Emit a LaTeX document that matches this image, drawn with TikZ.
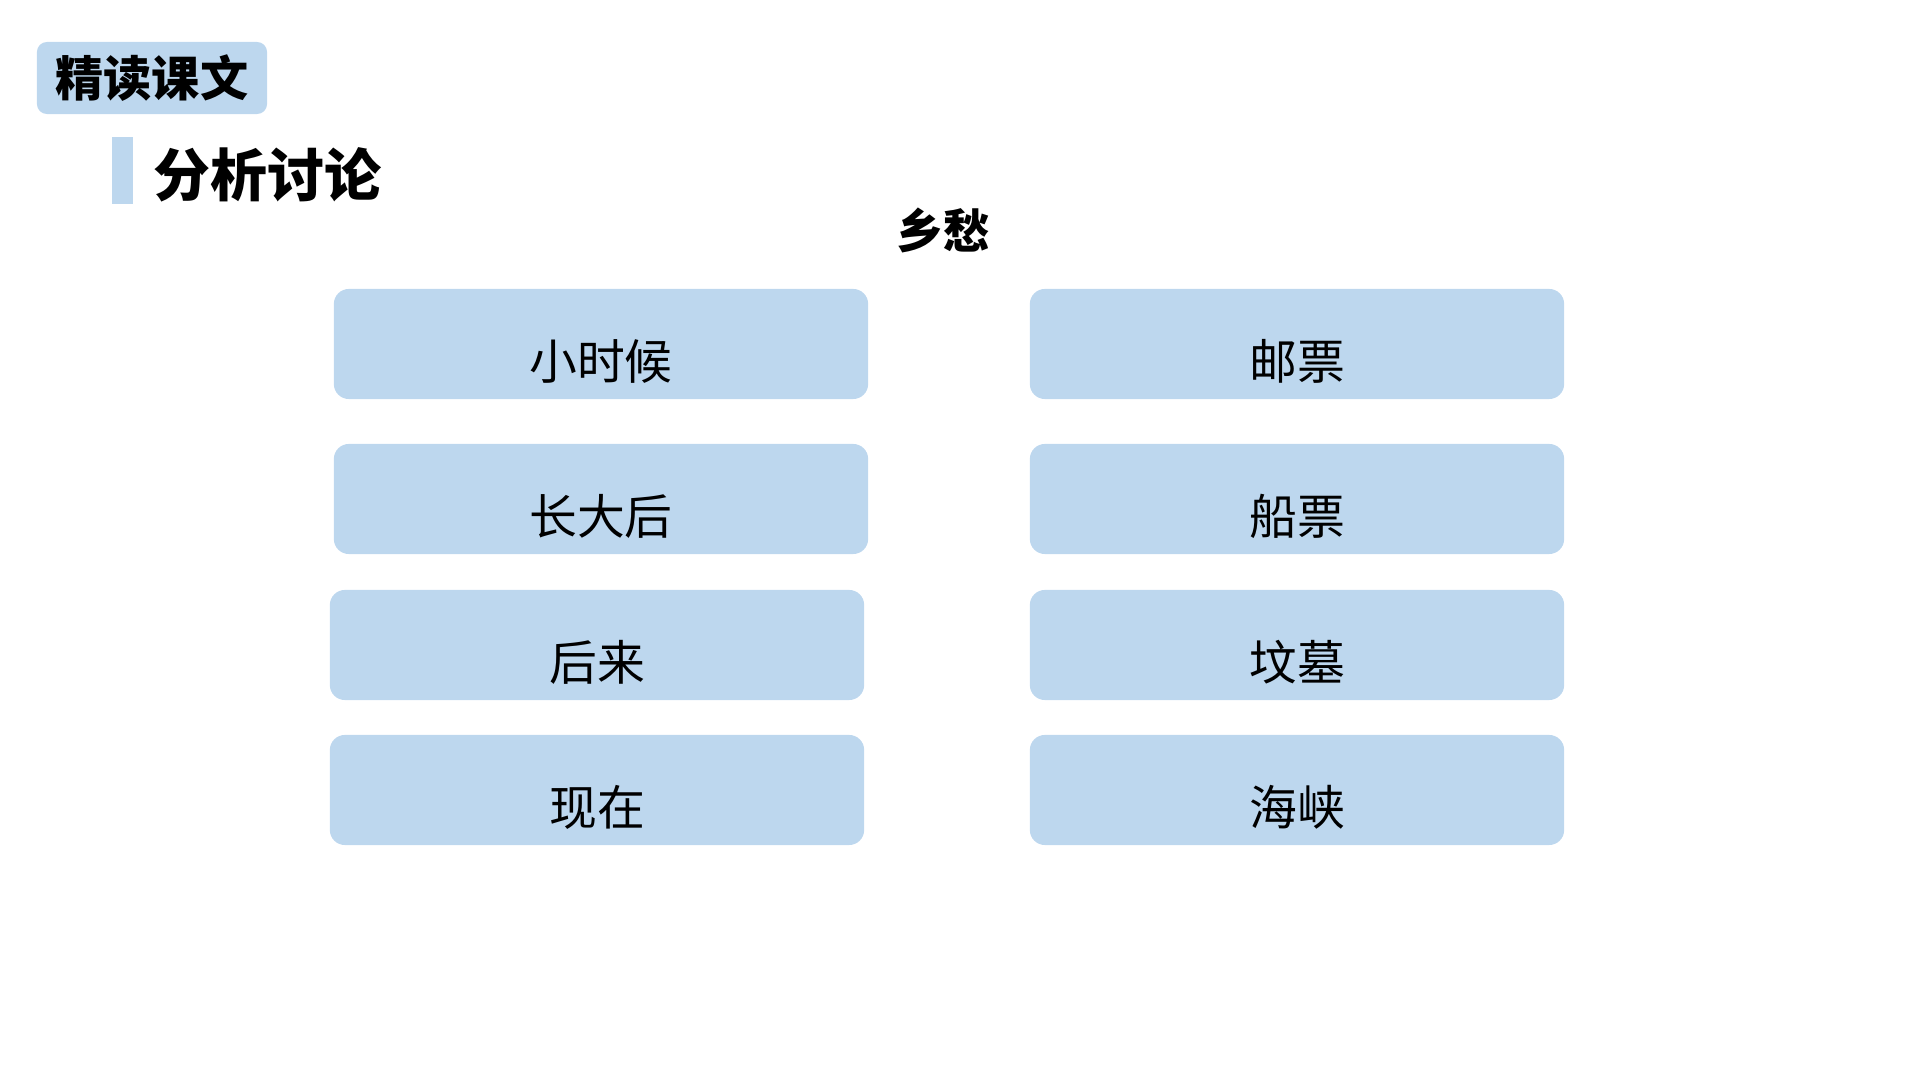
\documentclass[tikz,border=0pt]{standalone}
\usepackage{fontspec}
\newfontfamily\cjk{Noto Sans CJK SC}
\definecolor{paleblue}{HTML}{BDD7EE}
\begin{document}
\begin{tikzpicture}[x=0.01cm,y=-0.01cm,
  tag/.style={fill=paleblue, rounded corners=0.1cm, inner sep=0pt},
  slot/.style={fill=paleblue, rounded corners=0.15cm, minimum width=5.34cm, minimum height=1.1cm, inner sep=0pt, outer sep=0pt},
  word/.style={font=\cjk\fontsize{13.6pt}{13.6pt}\selectfont, inner sep=0pt}]
\useasboundingbox (0,0) rectangle (1920,1080);
% header
\node[tag, minimum width=2.3cm, minimum height=0.72cm] (tag) at (152,78) {};
\node[font=\cjk\bfseries\fontsize{13.7pt}{13.7pt}\selectfont] (tagtext) at (tag.center) {精读课文};
\fill[paleblue] (112,137) rectangle (133,204);
\node[font=\cjk\bfseries\fontsize{16.2pt}{16.2pt}\selectfont, anchor=west, inner sep=0pt] (topic) at (153,175) {分析讨论};
\node[font=\cjk\bfseries\fontsize{13.3pt}{13.3pt}\selectfont] (poem) at (943,230) {乡愁};
% left column
\foreach \n/\x/\y/\t in {a/601/344/小时候, b/601/499/长大后, c/597/645/后来, d/597/790/现在} {
\node[slot] (\n) at (\x,\y) {};
\node[word] (\n t) at ([yshift=-0.17cm]\n.center) {\t};
}
% right column
\foreach \n/\y/\t in {e/344/邮票, f/499/船票, g/645/坟墓, h/790/海峡} {
\node[slot] (\n) at (1297,\y) {};
\node[word] (\n t) at ([yshift=-0.17cm]\n.center) {\t};
}
\end{tikzpicture}
\end{document}
